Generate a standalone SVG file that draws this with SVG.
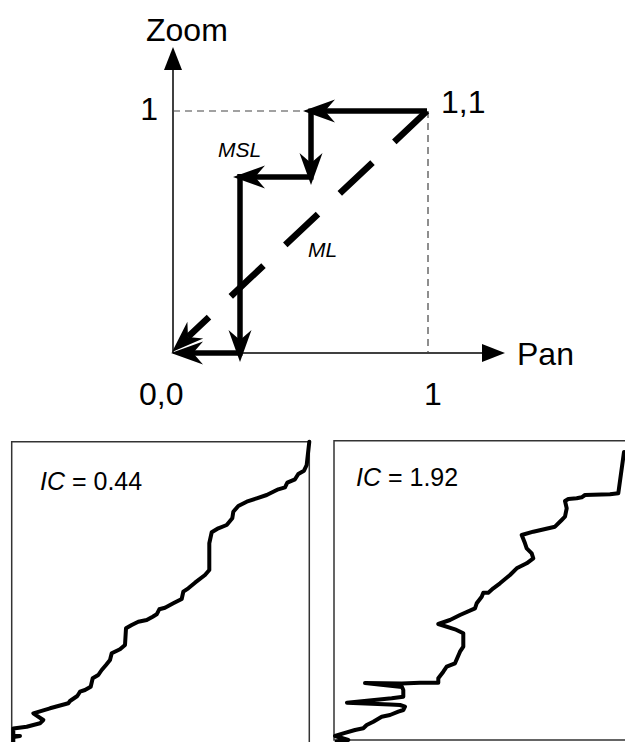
<svg xmlns="http://www.w3.org/2000/svg" width="625" height="742" viewBox="0 0 625 742">
<style>
text{font-family:"Liberation Sans",Arial,sans-serif;fill:#000}
.big{font-size:32px}
.it{font-style:italic}
.mid{font-size:21px}
.ic{font-size:25px}
.axis{stroke:#000;stroke-width:1.5;fill:none}
.guide{stroke:#444;stroke-width:1.2;stroke-dasharray:7 5;fill:none}
.thick{stroke:#000;stroke-width:5.5;fill:none}
.dash{stroke:#000;stroke-width:6.5;fill:none;stroke-dasharray:45 30}
.curve{stroke:#000;stroke-width:4;fill:none;stroke-linejoin:round;stroke-linecap:round}
.box{stroke:#333;stroke-width:1.5;fill:none}
</style>
<defs>
<marker id="stealth" viewBox="-34 -13 36 26" refX="-22" refY="0" markerWidth="36" markerHeight="26" markerUnits="userSpaceOnUse" orient="auto">
<path d="M0,0 L-32,-11.5 L-22,0 L-32,11.5 Z" fill="#000"/>
</marker>
<marker id="tri" viewBox="-24 -10 26 20" refX="-22" refY="0" markerWidth="26" markerHeight="20" markerUnits="userSpaceOnUse" orient="auto">
<path d="M0,0 L-23,-9 L-23,9 Z" fill="#000"/>
</marker>
</defs>

<g id="axes">
<line class="axis" x1="173" y1="353" x2="173" y2="69" marker-end="url(#tri)"/>
<line class="axis" x1="173" y1="353" x2="483" y2="353" marker-end="url(#tri)"/>
<line class="guide" x1="173" y1="111" x2="427" y2="111"/>
<line class="guide" x1="428" y1="111" x2="428" y2="353"/>
</g>

<g id="labels">
<text class="big" x="146" y="41">Zoom</text>
<text class="big" x="158" y="120" text-anchor="end">1</text>
<text class="big" x="441" y="113">1,1</text>
<text class="big" x="139" y="405">0,0</text>
<text class="big" x="424" y="405">1</text>
<text class="big" x="517" y="365">Pan</text>
<text class="mid it" x="218" y="157">MSL</text>
<text class="mid it" x="308" y="257">ML</text>
</g>

<g id="connectors">
<path class="thick" d="M427,111 H325" marker-end="url(#stealth)"/>
<path class="thick" d="M311,108.5 V163" marker-end="url(#stealth)"/>
<path class="thick" d="M313.5,177 H255" marker-end="url(#stealth)"/>
<path class="thick" d="M240,174 V340" marker-end="url(#stealth)"/>
<path class="thick" d="M242.5,353 H193" marker-end="url(#stealth)"/>
<path class="dash" d="M427,111 L188,336.9" marker-end="url(#stealth)"/>
</g>

<g id="panel-left">
<path class="box" d="M11.7,760 V441.7 H309.3 V760"/>
<text class="ic" x="40" y="490"><tspan class="it">IC</tspan> = 0.44</text>
<polyline class="curve" points="309.3,441.7 306.7,465 304,470.7 298.3,474 295,479.3 287.3,482.7 285,487.3 278.3,489.3 266.7,495 256.7,498.3 246.7,501.7 238.3,506 233.3,511.7 232.3,518.3 226.7,525 218.3,528.3 211.7,532.3 209.3,543.3 209.3,570 205,575 195,582.7 188.3,588.3 183.3,591.7 181.7,599 173.3,603.3 165,607.7 159.3,609.3 156.7,614.3 152.7,616.7 146.7,620 138.3,621.7 131.7,625 126,628.3 125,645 120,649.3 111.7,653.3 110,660 106,665 101.7,670 98.3,675 92.7,678.3 90.7,686.7 85,690 80,691.7 77.3,696 70,701 68.3,703.3 50,708.3 33.3,713.3 43.3,720 40,723.3 26.7,726.7 13.3,728.5 13.3,736 20,736 13.3,737 13.3,745"/>
</g>

<g id="panel-right">
<path class="box" d="M630,440.7 H334 V740 H630"/>
<text class="ic" x="356" y="486"><tspan class="it">IC</tspan> = 1.92</text>
<polyline class="curve" points="624,452 618.3,493.3 610,494.3 585,495 581.7,497.3 576.7,498.3 568.3,499 565,501 566.7,508.3 565,516.7 561.7,520 555,526.7 533.3,531.7 521.7,535 525,543.3 526.7,548.3 531.7,553.3 533.3,558.3 526.7,563.3 516.7,568.3 510,575 500,583.3 493.3,588.3 488.3,592.7 483.3,592.7 481.7,596.7 476.7,603.3 475,608.3 460,615 450,620 438.3,624 455,629.3 463.3,633.3 463.3,646.7 460,651.7 455,663.3 446.7,666.7 443.3,671.7 438.3,678.3 438.3,682.7 420,682.7 401.7,683.5 365,683 402,687 403.3,690 403.3,696.7 391.7,698.3 347,702.7 390,704.5 400,705 405,706.7 403.3,710 398.3,711.7 390,715 381.7,716.7 373.3,721.7 366.7,725 363.3,728.3 355,730 343.3,733.3 335,736 348.3,740 336.7,741.5"/>
</g>
</svg>
